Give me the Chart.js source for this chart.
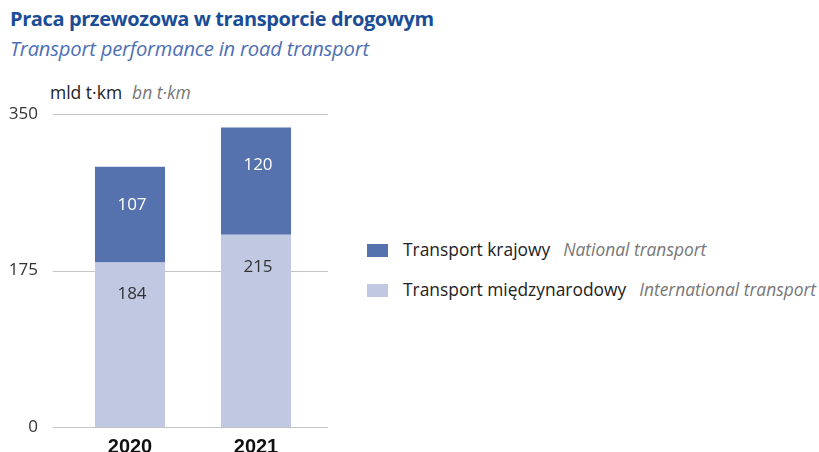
<!DOCTYPE html>
<html>
<head>
<meta charset="utf-8">
<script src="https://cdn.jsdelivr.net/npm/chart.js@4/dist/chart.umd.min.js"></script>
<style>
  html, body { margin:0; padding:0; background:#fff; }
  body { width:819px; height:452px; position:relative; overflow:hidden; font-family:"Open Sans", sans-serif; }
  #c { position:absolute; left:0; top:0; }
  .t1 { position:absolute; left:10px; top:5px; font-weight:bold; font-size:20px; color:#1b4d97; white-space:nowrap; letter-spacing:-0.4px; }
  .t2 { position:absolute; left:10px; top:34px; font-style:italic; font-size:20.2px; color:#4e6fb4; white-space:nowrap; letter-spacing:-0.2px; }
  .unit { position:absolute; left:50px; top:80px; font-size:17.5px; color:#222; white-space:nowrap; }
  .unit i { color:#777; margin-left:10px; }
  .leg { position:absolute; left:367px; font-size:17.4px; color:#222; white-space:nowrap; }
  .leg .sw { display:inline-block; width:21px; height:13px; vertical-align:middle; margin-right:15px; position:relative; top:-1px; }
  .leg i { color:#777; margin-left:13px; }
</style>
</head>
<body>
<div class="t1">Praca przewozowa w transporcie drogowym</div>
<div class="t2">Transport performance in road transport</div>
<div class="unit">mld t·km<i>bn t·km</i></div>
<div id="legend"></div>
<canvas id="c" width="819" height="452"></canvas>
<script>
const categories = ["2020", "2021"];
const international = [184, 215];
const national = [107, 120];
const yTicks = [0, 175, 350];
const seriesPL = ["Transport krajowy", "Transport międzynarodowy"];
const seriesEN = ["National transport", "International transport"];
const colors = { national: "#5571ae", international: "#c0c8e2" };

// HTML legend from series arrays
const legendTops = [237, 277];
const legendColors = [colors.national, colors.international];
const legEl = document.getElementById('legend');
seriesPL.forEach((pl, i) => {
  const d = document.createElement('div');
  d.className = 'leg';
  d.style.top = legendTops[i] + 'px';
  d.innerHTML = '<span class="sw" style="background:' + legendColors[i] + '"></span>' + pl + '<i>' + seriesEN[i] + '</i>';
  legEl.appendChild(d);
});

const FONT = '"Open Sans", sans-serif';

const gridPlugin = {
  id: 'customGrid',
  beforeDatasetsDraw(chart) {
    const ctx = chart.ctx, y = chart.scales.y;
    ctx.save();
    ctx.strokeStyle = '#c4c4c4';
    ctx.lineWidth = 1.2;
    yTicks.forEach(v => {
      const py = Math.round(y.getPixelForValue(v)) + 0.5;
      ctx.beginPath();
      ctx.moveTo(53, py);
      ctx.lineTo(328, py);
      ctx.stroke();
    });
    ctx.restore();
  }
};

const labelPlugin = {
  id: 'segLabels',
  afterDatasetsDraw(chart) {
    const ctx = chart.ctx;
    ctx.save();
    ctx.font = '17px ' + FONT;
    ctx.textAlign = 'center';
    ctx.textBaseline = 'middle';
    chart.data.datasets.forEach((ds, di) => {
      const meta = chart.getDatasetMeta(di);
      meta.data.forEach((bar, i) => {
        ctx.fillStyle = ds.labelColor;
        const off = di === 0 ? 32 : 38;
        ctx.fillText(String(ds.data[i]), bar.x + 2, bar.y + off);
      });
    });
    // category labels from x scale
    const xs = chart.scales.x;
    ctx.font = 'bold 20px "Liberation Sans", Arial, sans-serif';
    ctx.fillStyle = '#111';
    ctx.textBaseline = 'alphabetic';
    categories.forEach((c, i) => {
      ctx.fillText(c, xs.getPixelForValue(i), chart.chartArea.bottom + 25.5);
    });
    ctx.restore();
  }
};

new Chart(document.getElementById('c'), {
  type: 'bar',
  data: {
    labels: categories,
    datasets: [
      { label: seriesPL[1], data: international, backgroundColor: colors.international, labelColor: '#333' },
      { label: seriesPL[0], data: national, backgroundColor: colors.national, labelColor: '#fff' }
    ]
  },
  options: {
    responsive: false,
    animation: false,
    devicePixelRatio: 1,
    layout: { padding: { left: 0, right: 500, top: 114, bottom: 25 } },
    plugins: { legend: { display: false }, tooltip: { enabled: false } },
    datasets: { bar: { categoryPercentage: 1, barPercentage: 0.556 } },
    scales: {
      x: {
        stacked: true,
        display: false
      },
      y: {
        stacked: true,
        min: 0, max: 350,
        afterBuildTicks(s) { s.ticks = yTicks.map(v => ({ value: v })); },
        grid: { display: false, drawTicks: false },
        border: { display: false },
        ticks: { color: '#333', font: { family: FONT, size: 17 }, padding: 29 },
        afterFit(s) { s.width = 67; s.paddingTop = 0; s.paddingBottom = 0; }
      }
    }
  },
  plugins: [gridPlugin, labelPlugin]
});
</script>
</body>
</html>
